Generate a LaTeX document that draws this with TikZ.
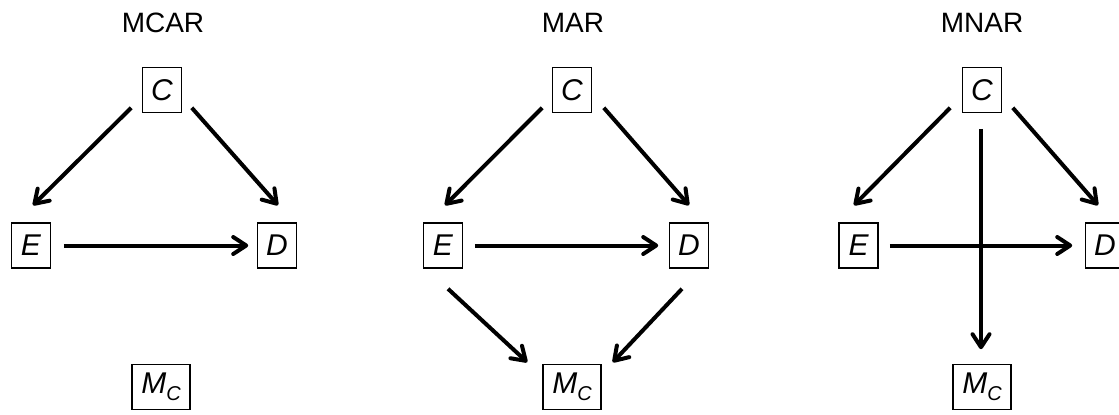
\documentclass[tikz,border=0pt]{standalone}
\usepackage{fontspec}
\setmainfont{Liberation Sans}
\usetikzlibrary{arrows.meta}

\begin{document}
\begin{tikzpicture}[x=0.5pt,y=-0.5pt,
    var/.style={draw,line width=0.8pt,minimum width=19.5pt,minimum height=22.5pt,inner sep=0pt,
      font=\fontsize{15}{15}\selectfont\itshape},
    ttl/.style={font=\fontsize{14}{14}\selectfont},
    arr/.style={line width=2pt,-{Straight Barb[length=6.5pt,width=8.5pt,round]}}]
  \clip (0,0) rectangle (1119,414);
  \node[ttl] (t1) at (163,22.5) {MCAR};
  \node[ttl] (t2) at (573,22.5) {MAR};
  \node[ttl] (t3) at (982,22.5) {MNAR};

  \node[var] (c1) at (162,90) {C};
  \node[var] (e1) at (31,245.5) {E};
  \node[var] (d1) at (277,245.5) {D};
  \node[var,minimum width=29pt] (m1) at (161,387) {M\raisebox{-3.5pt}{\fontsize{10}{10}\selectfont C}};
  \draw[arr] ([shift={(-10.5,-5.5)}]c1.south west) -- ([shift={(2,-17)}]e1.north);
  \draw[arr] ([shift={(9.5,-5.5)}]c1.south east) -- ([shift={(1,-17)}]d1.north);
  \draw[arr] ([shift={(12.5,0)}]e1.east) -- ([shift={(-8.5,0)}]d1.west);

  \node[var] (c2) at (572,90) {C};
  \node[var] (e2) at (443,245.5) {E};
  \node[var] (d2) at (689,245.5) {D};
  \node[var,minimum width=29pt] (m2) at (572,387) {M\raisebox{-3.5pt}{\fontsize{10}{10}\selectfont C}};
  \draw[arr] ([shift={(-9.5,-5.5)}]c2.south west) -- ([shift={(2,-17)}]e2.north);
  \draw[arr] ([shift={(11.5,-5.5)}]c2.south east) -- ([shift={(0,-17)}]d2.north);
  \draw[arr] ([shift={(11.5,0)}]e2.east) -- ([shift={(-10.5,0)}]d2.west);
  \draw[arr] ([shift={(5,20)}]e2.south) -- ([shift={(-15,-1.5)}]m2.north west);
  \draw[arr] ([shift={(-7,20)}]d2.south) -- ([shift={(11,-1.5)}]m2.north east);

  \node[var] (c3) at (982,90) {C};
  \node[var] (e3) at (858.5,245.5) {E};
  \node[var] (d3) at (1105,245.5) {D};
  \node[var,minimum width=29pt] (m3) at (982,387) {M\raisebox{-3.5pt}{\fontsize{10}{10}\selectfont C}};
  \draw[arr] ([shift={(-11.5,-5.5)}]c3.south west) -- ([shift={(-4.5,-17)}]e3.north);
  \draw[arr] ([shift={(10.5,-5.5)}]c3.south east) -- ([shift={(-7,-17)}]d3.north);
  \draw[arr] ([shift={(11,0)}]e3.east) -- ([shift={(-12.5,0)}]d3.west);
  \draw[arr] ([shift={(-1,15.5)}]c3.south) -- ([shift={(-1,-14.5)}]m3.north);
\end{tikzpicture}
\end{document}
